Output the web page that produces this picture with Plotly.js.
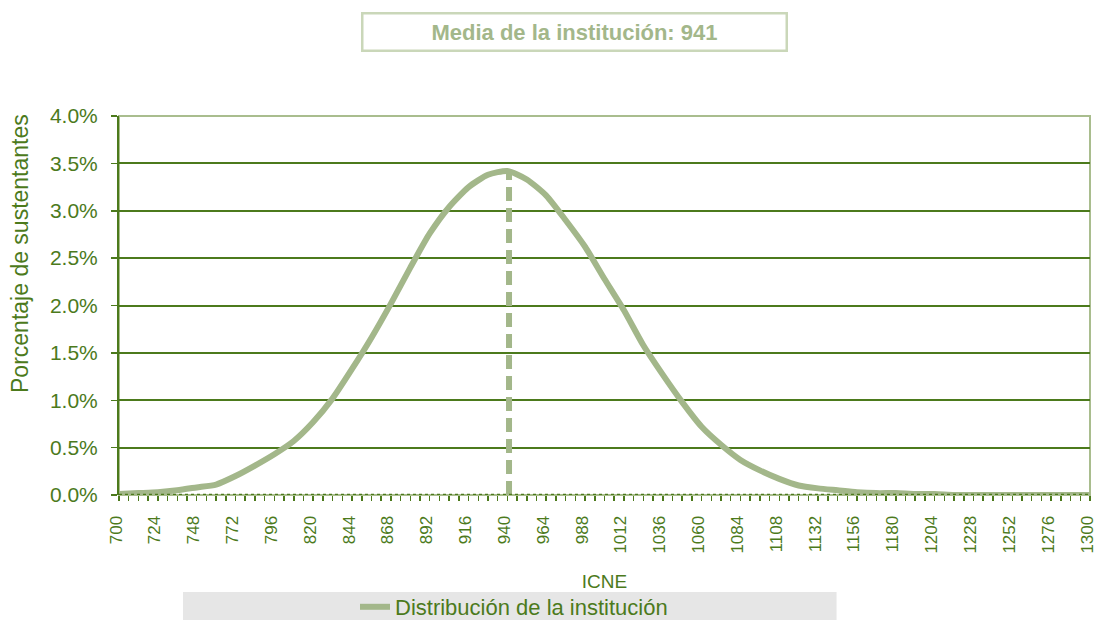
<!DOCTYPE html>
<html>
<head>
<meta charset="utf-8">
<script src="https://cdn.plot.ly/plotly-3.0.1.min.js"></script>
<style>
  html, body { margin: 0; padding: 0; background: #ffffff; overflow: hidden; }
  #chart { width: 1096px; height: 620px; }
</style>
</head>
<body>
<div id="chart"></div>
<script>
// ICNE score categories (step 12)
const icne = [700, 712, 724, 736, 748, 760, 772, 784, 796, 808, 820, 832, 844, 856, 868, 880, 892, 904, 916, 928, 940,
              952, 964, 976, 988, 1000, 1012, 1024, 1036, 1048, 1060, 1072, 1084, 1096, 1108, 1120, 1132, 1144, 1156, 1168, 1180,
              1192, 1204, 1216, 1228, 1240, 1252, 1264, 1276, 1288, 1300];
// Percentage of test takers (%)
const distribucion = [0.01, 0.02, 0.03, 0.05, 0.08, 0.11, 0.20, 0.31, 0.43, 0.57, 0.77, 1.02, 1.33, 1.66, 2.02, 2.40, 2.76, 3.04, 3.25, 3.38, 3.42,
                      3.33, 3.16, 2.90, 2.62, 2.28, 1.95, 1.58, 1.27, 0.98, 0.72, 0.53, 0.37, 0.26, 0.17, 0.10, 0.07, 0.05, 0.03, 0.02, 0.02,
                      0.01, 0.01, 0, 0, 0, 0, 0, 0, 0, 0];
const mediaInstitucion = 941;
const mediaPico = 3.42;
const xTickValues = [700, 724, 748, 772, 796, 820, 844, 868, 892, 916, 940, 964, 988, 1012, 1036, 1060, 1084, 1108, 1132, 1156, 1180, 1204, 1228, 1252, 1276, 1300];
const yTickValues = [0, 0.5, 1.0, 1.5, 2.0, 2.5, 3.0, 3.5, 4.0];

const darkGreen = '#4c7a1c';
const sage = '#a3b78a';
const font = 'Liberation Sans, Arial, sans-serif';

const traces = [
  {
    x: icne, y: distribucion, type: 'scatter', mode: 'lines',
    name: 'Distribución de la institución',
    line: { color: sage, width: 6, shape: 'spline', smoothing: 0.6 },
    hoverinfo: 'x+y'
  },
  {
    x: [mediaInstitucion, mediaInstitucion], y: [0, mediaPico], type: 'scatter', mode: 'lines',
    showlegend: false,
    line: { color: sage, width: 6, dash: '14px,7px' }
  }
];

const layout = {
  width: 1096, height: 620,
  margin: { l: 119, r: 6, t: 116, b: 125, autoexpand: false },
  paper_bgcolor: '#ffffff', plot_bgcolor: '#ffffff',
  font: { family: font, color: darkGreen, size: 16 },
  showlegend: true,
  legend: {
    orientation: 'h', x: 0.4068, xanchor: 'center', y: -0.2955, yanchor: 'middle',
    bgcolor: 'rgba(0,0,0,0)', font: { size: 22, color: darkGreen, family: font }
  },
  xaxis: {
    type: 'linear', range: [700, 1300],
    tickmode: 'array', tickvals: xTickValues, ticktext: xTickValues.map(String),
    tickangle: -90, tickfont: { size: 17, color: darkGreen },
    ticks: 'outside', ticklen: 5, tickwidth: 1.5, tickcolor: darkGreen,
    minor: { dtick: 6, tick0: 700, ticks: 'outside', ticklen: 5, tickwidth: 1.5, tickcolor: darkGreen, showgrid: false },
    showgrid: false, zeroline: false, showline: false,
    ticklabelstandoff: 8, ticklabelshift: -3, ticklabeloverflow: 'allow',
    title: { text: 'ICNE', font: { size: 19, color: darkGreen }, standoff: 22 },
    automargin: false
  },
  yaxis: {
    range: [0, 4.0], tickmode: 'array', tickvals: yTickValues,
    ticktext: yTickValues.map(v => v.toFixed(1) + '%'),
    tickfont: { size: 21, color: darkGreen },
    ticks: 'outside', ticklen: 6, tickwidth: 1.5, tickcolor: darkGreen,
    ticklabelstandoff: 9,
    showgrid: true, gridcolor: darkGreen, gridwidth: 2,
    zeroline: false, showline: true, linecolor: darkGreen, linewidth: 2,
    automargin: false
  },
  shapes: [
    // plot area border (light)
    { type: 'rect', xref: 'paper', yref: 'paper', x0: 0, x1: 1, y0: 0, y1: 1,
      line: { color: '#a9bd8e', width: 2 }, layer: 'below' },
    // dotted baseline
    { type: 'line', xref: 'paper', yref: 'y', x0: 0, x1: 1, y0: 0, y1: 0,
      line: { color: darkGreen, width: 2.5, dash: 'dot' }, layer: 'above' },
    // legend background
    { type: 'rect', xref: 'paper', yref: 'paper', x0: 0.0659, x1: 0.739, y0: -0.256, y1: -0.34,
      fillcolor: '#e6e6e6', line: { width: 0 }, layer: 'below' }
  ],
  annotations: [
    { text: '<b>Media de la institución: 941</b>', xref: 'paper', yref: 'paper',
      x: 0.4686, y: 1.2216, xanchor: 'center', yanchor: 'middle', showarrow: false,
      font: { size: 22, color: sage, family: font },
      bordercolor: '#cad7b9', borderwidth: 2.5, width: 420, height: 33, bgcolor: '#ffffff' },
    { text: 'Porcentaje de sustentantes', xref: 'paper', yref: 'paper',
      x: -0.1020, y: 0.6385, xanchor: 'center', yanchor: 'middle', showarrow: false,
      textangle: -90, font: { size: 23, color: darkGreen, family: font } }
  ]
};

Plotly.newPlot('chart', traces, layout, { displayModeBar: false, staticPlot: true });
</script>
</body>
</html>
